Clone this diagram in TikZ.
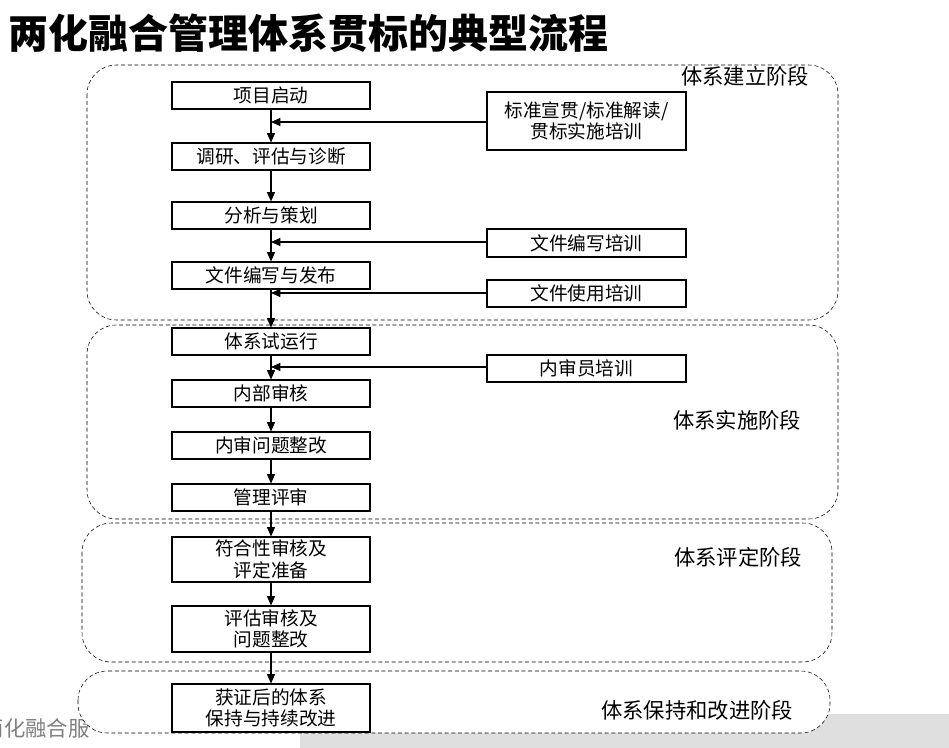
\documentclass[tikz,border=0pt]{standalone}
\usepackage{fontspec}
\setmainfont{Noto Sans CJK SC}
\usetikzlibrary{arrows.meta}
\tikzset{
  step box/.style = {draw, thick, minimum width=198*0.75pt, inner sep=0pt, align=center, font=\fontsize{14}{16}\selectfont},
  train box/.style = {draw, thick, minimum width=199*0.75pt, inner sep=0pt, align=center, font=\fontsize{14}{16}\selectfont},
  phase/.style = {draw, densely dashed, rounded corners=22pt},
  phase label/.style = {font=\fontsize{16}{18}\selectfont},
  flow/.style = {-{Triangle[length=7pt,width=6pt]}, thick}
}
\begin{document}
\begin{tikzpicture}[x=0.75pt, y=-0.75pt]
\clip (0,0) rectangle (949,748);
\useasboundingbox (0,0) rectangle (949,748);
\fill[white] (0,0) rectangle (949,748);
\fill[gray!25] (300,714) rectangle (949,748);
\node[anchor=west, text=gray, font=\fontsize{16}{18}\selectfont] (footer) at (-22,728) {两化融合服};
\node[anchor=west, font=\fontsize{30}{33}\selectfont\bfseries] (title) at (4,33) {两化融合管理体系贯标的典型流程};
% phases
\draw[phase] (87,65) rectangle (838,320);
\draw[phase] (87,325) rectangle (838,519);
\draw[phase] (82,523) rectangle (832,662);
\draw[phase, fill=white] (78,671) rectangle (830,733);
\node[phase label] (p1) at (745,76) {体系建立阶段};
\node[phase label] (p2) at (737,420) {体系实施阶段};
\node[phase label] (p3) at (738,557) {体系评定阶段};
\node[phase label] (p4) at (697,710) {体系保持和改进阶段};
% main steps
\begin{scope}[every node/.style = {step box}]
\node[minimum height=27*0.75pt] (s1) at (271,95.5) {项目启动};
\node[minimum height=27*0.75pt] (s2) at (271,156.5) {调研、评估与诊断};
\node[minimum height=27*0.75pt] (s3) at (271,215.5) {分析与策划};
\node[minimum height=27*0.75pt] (s4) at (271,275.5) {文件编写与发布};
\node[minimum height=27*0.75pt] (s5) at (271,341.5) {体系试运行};
\node[minimum height=27*0.75pt] (s6) at (271,393.5) {内部审核};
\node[minimum height=27*0.75pt] (s7) at (271,445.5) {内审问题整改};
\node[minimum height=27*0.75pt] (s8) at (271,497.5) {管理评审};
\node[minimum height=45*0.75pt] (s9) at (271,559.5) {符合性审核及\\评定准备};
\node[minimum height=46*0.75pt] (s10) at (271,629) {评估审核及\\问题整改};
\node[minimum height=48*0.75pt] (s11) at (271,708) {获证后的体系\\保持与持续改进};
\end{scope}
% trainings
\begin{scope}[every node/.style = {train box}]
\node[minimum height=58*0.75pt] (t1) at (586.5,121) {标准宣贯/标准解读/\\贯标实施培训};
\node[minimum height=28*0.75pt] (t2) at (586.5,243) {文件编写培训};
\node[minimum height=27*0.75pt] (t3) at (586.5,293.5) {文件使用培训};
\node[minimum height=27*0.75pt] (t4) at (586.5,368.5) {内审员培训};
\end{scope}
\coordinate (m1) at (271,122);
\coordinate (m2) at (271,242);
\coordinate (m3) at (271,293);
\coordinate (m4) at (271,367);
% connectors
\foreach \a/\b in {s1/s2, s2/s3, s3/s4, s4/s5, s5/s6, s6/s7, s7/s8, s8/s9, s9/s10, s10/s11}
  \draw[flow] (\a) -- (\b);
\draw[flow] (t1.west |- m1) -- (m1);
\draw[flow] (t2.west |- m2) -- (m2);
\draw[flow] (t3.west |- m3) -- (m3);
\draw[flow] (t4.west |- m4) -- (m4);
\end{tikzpicture}
\end{document}
